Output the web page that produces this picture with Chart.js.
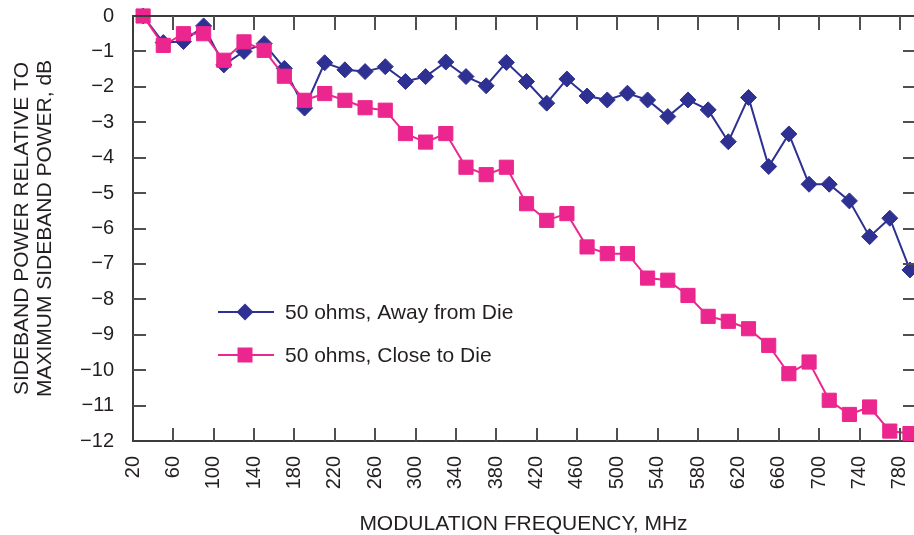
<!DOCTYPE html>
<html>
<head>
<meta charset="utf-8">
<script src="https://cdn.jsdelivr.net/npm/chart.js"></script>
<style>
  html, body { margin: 0; padding: 0; background: #fff; }
  #wrap { width: 914px; height: 535px; }
</style>
</head>
<body>
<div id="wrap"><canvas id="chart" width="914" height="535"></canvas></div>
<script>
// modulation frequency, MHz
const freq = [30, 50, 70, 90, 110, 130, 150, 170, 190, 210, 230, 250, 270, 290, 310, 330, 350, 370, 390,
  410, 430, 450, 470, 490, 510, 530, 550, 570, 590, 610, 630, 650, 670, 690, 710, 730, 750, 770, 790];

// sideband power relative to max, dB
const awayFromDie = [0, -0.75, -0.72, -0.28, -1.38, -1.0, -0.78, -1.48, -2.6, -1.32, -1.52, -1.57, -1.43,
  -1.85, -1.71, -1.3, -1.71, -1.97, -1.31, -1.85, -2.46, -1.78, -2.26, -2.37, -2.18, -2.37, -2.84, -2.37,
  -2.65, -3.55, -2.3, -4.25, -3.33, -4.75, -4.75, -5.22, -6.23, -5.71, -7.17];
const closeToDie = [0, -0.83, -0.5, -0.5, -1.25, -0.73, -0.97, -1.7, -2.38, -2.19, -2.38, -2.59, -2.66,
  -3.32, -3.56, -3.32, -4.27, -4.48, -4.27, -5.3, -5.77, -5.58, -6.52, -6.71, -6.71, -7.4, -7.46, -7.89,
  -8.48, -8.62, -8.83, -9.3, -10.1, -9.77, -10.85, -11.25, -11.04, -11.72, -11.79];

// x axis tick labels
const freqTicks = [20, 60, 100, 140, 180, 220, 260, 300, 340, 380, 420, 460, 500, 540, 580, 620, 660, 700, 740, 780];

const BLUE = "#2E3192";
const PINK = "#EC268F";
const INK = "#231F20";
const FONT = "'Liberation Sans', Arial, Helvetica, sans-serif";

const toXY = (ys) => ys.map((y, i) => ({ x: freq[i], y: y }));

// inward tick marks on all four sides plus the top frame line
const frameTicks = {
  id: "frameTicks",
  afterDraw(chart) {
    const { ctx, chartArea: a, scales } = chart;
    ctx.save();
    ctx.strokeStyle = "#3c3c3c";
    ctx.lineWidth = 2;
    ctx.beginPath();
    ctx.moveTo(a.left, a.top);
    ctx.lineTo(a.right, a.top);
    ctx.stroke();
    ctx.strokeStyle = "#505050";
    ctx.beginPath();
    for (const t of scales.x.ticks) {
      const px = Math.round(scales.x.getPixelForValue(t.value));
      if (px <= a.left + 2) continue;
      ctx.moveTo(px, a.bottom);
      ctx.lineTo(px, a.bottom - 13);
      ctx.moveTo(px, a.top);
      ctx.lineTo(px, a.top + 14);
    }
    for (const t of scales.y.ticks) {
      const py = Math.round(scales.y.getPixelForValue(t.value));
      if (py <= a.top + 2 || py >= a.bottom - 2) continue;
      ctx.moveTo(a.left, py);
      ctx.lineTo(a.left + 13, py);
      ctx.moveTo(a.right, py);
      ctx.lineTo(a.right - 11, py);
    }
    ctx.stroke();
    ctx.restore();
  }
};

// legend drawn inside the plot
const innerLegend = {
  id: "innerLegend",
  afterDatasetsDraw(chart) {
    const { ctx, chartArea: a } = chart;
    const x0 = a.left + 85, x1 = a.left + 141, xm = a.left + 112, tx = a.left + 152;
    const rows = [
      { y: 312, color: BLUE, shape: "diamond", text: "50 ohms, Away from Die" },
      { y: 355, color: PINK, shape: "square", text: "50 ohms, Close to Die" }
    ];
    ctx.save();
    for (const r of rows) {
      ctx.strokeStyle = r.color;
      ctx.fillStyle = r.color;
      ctx.lineWidth = 2;
      ctx.beginPath();
      ctx.moveTo(x0, r.y);
      ctx.lineTo(x1, r.y);
      ctx.stroke();
      ctx.beginPath();
      if (r.shape === "diamond") {
        ctx.moveTo(xm - 8.5, r.y);
        ctx.lineTo(xm, r.y - 8.5);
        ctx.lineTo(xm + 8.5, r.y);
        ctx.lineTo(xm, r.y + 8.5);
        ctx.closePath();
      } else {
        ctx.rect(xm - 7.5, r.y - 7.5, 15, 15);
      }
      ctx.fill();
      ctx.fillStyle = INK;
      ctx.font = "21px " + FONT;
      ctx.textBaseline = "middle";
      ctx.textAlign = "left";
      ctx.fillText(r.text, tx, r.y + 1);
    }
    ctx.restore();
  }
};

new Chart(document.getElementById("chart"), {
  type: "line",
  data: {
    datasets: [
      {
        label: "50 ohms, Away from Die",
        data: toXY(awayFromDie),
        borderColor: BLUE,
        backgroundColor: BLUE,
        borderWidth: 2,
        pointStyle: "rectRot",
        pointRadius: 8,
        pointBorderWidth: 1,
        tension: 0,
        clip: false,
        order: 1
      },
      {
        label: "50 ohms, Close to Die",
        data: toXY(closeToDie),
        borderColor: PINK,
        backgroundColor: PINK,
        borderWidth: 2,
        pointStyle: "rect",
        pointRadius: 10,
        pointBorderWidth: 1,
        tension: 0,
        clip: false,
        order: 0
      }
    ]
  },
  options: {
    responsive: false,
    animation: false,
    layout: { autoPadding: false, padding: { top: 16, right: 0, bottom: 0, left: 0 } },
    plugins: {
      legend: { display: false },
      tooltip: { enabled: false }
    },
    scales: {
      x: {
        type: "linear",
        min: 20,
        max: 794,
        grid: { display: false, drawTicks: false },
        border: { display: true, color: "#3c3c3c", width: 2 },
        afterBuildTicks(scale) {
          scale.ticks = freqTicks.map((v) => ({ value: v }));
        },
        ticks: {
          autoSkip: false,
          minRotation: 90,
          maxRotation: 90,
          padding: 15,
          color: INK,
          font: { family: FONT, size: 20 }
        },
        title: {
          display: true,
          text: "MODULATION FREQUENCY, MHz",
          color: INK,
          font: { family: FONT, size: 21, lineHeight: 1 },
          padding: { top: 0, bottom: 0 }
        },
        afterFit(scale) {
          scale.height = 94;
          scale.paddingLeft = 0;
          scale.paddingRight = 0;
        }
      },
      y: {
        min: -12,
        max: 0,
        grid: { display: false, drawTicks: false },
        border: { display: true, color: "#3c3c3c", width: 2 },
        ticks: {
          stepSize: 1,
          padding: 19,
          color: INK,
          font: { family: FONT, size: 20 },
          callback: (v) => (v < 0 ? "\u2212" + Math.abs(v) : String(v))
        },
        title: {
          display: true,
          text: ["SIDEBAND POWER RELATIVE TO", "MAXIMUM SIDEBAND POWER, dB"],
          color: INK,
          font: { family: FONT, size: 21, lineHeight: 1.1 },
          padding: { top: 11, bottom: 0 }
        },
        afterFit(scale) {
          scale.width = 133;
          scale.paddingTop = 0;
          scale.paddingBottom = 0;
        }
      }
    }
  },
  plugins: [frameTicks, innerLegend]
});
</script>
</body>
</html>
